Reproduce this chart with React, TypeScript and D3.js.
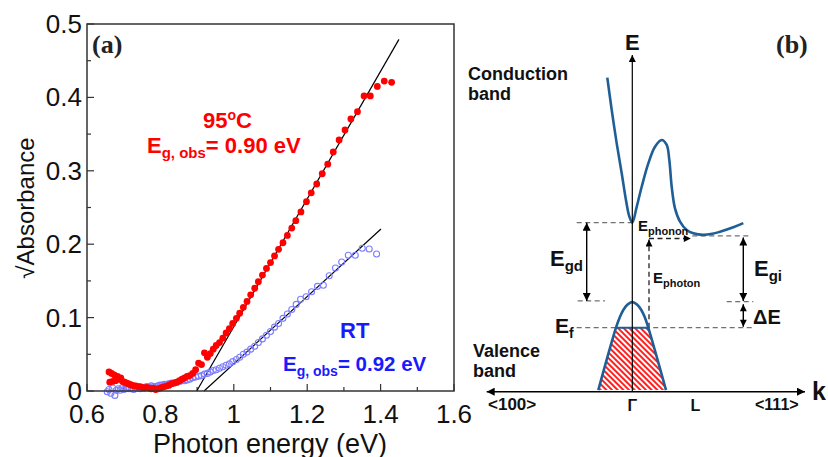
import React from "react";
import * as d3 from "d3";

// ---------- Panel (a) data ----------
const xTicks = [0.6, 0.8, 1.0, 1.2, 1.4, 1.6];
const xTickLabels = ["0.6", "0.8", "1", "1.2", "1.4", "1.6"];
const xMinorTicks = [0.7, 0.9, 1.1, 1.3, 1.5];
const yTicks = [0, 0.1, 0.2, 0.3, 0.4, 0.5];
const yTickLabels = ["0", "0.1", "0.2", "0.3", "0.4", "0.5"];
const yMinorTicks = [0.05, 0.15, 0.25, 0.35, 0.45];

// 95 °C (filled red dots): [photon energy eV, sqrt absorbance]
const red95: [number, number][] = [
  [0.66, 0.026], [0.662, 0.012], [0.667, 0.024], [0.67, 0.013], [0.674, 0.022],
  [0.678, 0.014], [0.683, 0.02], [0.688, 0.016], [0.692, 0.018], [0.697, 0.013],
  [0.702, 0.012], [0.707, 0.011], [0.712, 0.01], [0.717, 0.009], [0.722, 0.008],
  [0.728, 0.007], [0.733, 0.007], [0.739, 0.006], [0.745, 0.006], [0.751, 0.005],
  [0.757, 0.004], [0.763, 0.005], [0.769, 0.004], [0.775, 0.003], [0.781, 0.004],
  [0.787, 0.002], [0.793, 0.003], [0.799, 0.004], [0.805, 0.005], [0.811, 0.006],
  [0.818, 0.007], [0.824, 0.008], [0.831, 0.01], [0.838, 0.011], [0.845, 0.012],
  [0.852, 0.014], [0.859, 0.016], [0.866, 0.018], [0.873, 0.02], [0.88, 0.021],
  [0.888, 0.024], [0.896, 0.029], [0.904, 0.038], [0.912, 0.036], [0.92, 0.052],
  [0.928, 0.046], [0.936, 0.051], [0.944, 0.057], [0.952, 0.062], [0.961, 0.066],
  [0.97, 0.072], [0.979, 0.079], [0.988, 0.085], [0.997, 0.092], [1.007, 0.099],
  [1.016, 0.106], [1.026, 0.114], [1.036, 0.122], [1.046, 0.131], [1.057, 0.14],
  [1.067, 0.149], [1.078, 0.158], [1.089, 0.167], [1.1, 0.175], [1.111, 0.184],
  [1.122, 0.193], [1.134, 0.202], [1.146, 0.212], [1.158, 0.222], [1.169, 0.232],
  [1.183, 0.244], [1.198, 0.258], [1.211, 0.27], [1.226, 0.282], [1.241, 0.296],
  [1.256, 0.309], [1.271, 0.3256], [1.287, 0.342], [1.303, 0.3556], [1.319, 0.3706],
  [1.337, 0.3805], [1.355, 0.402], [1.372, 0.402], [1.391, 0.415], [1.41, 0.4223],
  [1.43, 0.4206],
];

// RT (open blue circles)
const blueRT: [number, number][] = [
  [0.655, -0.001], [0.66, 0.002], [0.665, -0.003], [0.67, 0.004], [0.676, -0.006],
  [0.68, 0.001], [0.685, 0.003], [0.69, 0.001], [0.695, 0.004], [0.7, 0.002],
  [0.706, 0.003], [0.711, 0.005], [0.716, 0.003], [0.722, 0.004], [0.727, 0.002],
  [0.733, 0.004], [0.739, 0.005], [0.745, 0.003], [0.751, 0.004], [0.757, 0.005],
  [0.763, 0.006], [0.769, 0.005], [0.775, 0.007], [0.781, 0.006], [0.787, 0.006],
  [0.793, 0.007], [0.799, 0.008], [0.805, 0.008], [0.811, 0.009], [0.818, 0.009],
  [0.824, 0.01], [0.831, 0.011], [0.838, 0.011], [0.845, 0.012], [0.852, 0.013],
  [0.859, 0.014], [0.866, 0.014], [0.873, 0.015], [0.88, 0.016], [0.888, 0.018],
  [0.896, 0.019], [0.904, 0.02], [0.912, 0.021], [0.92, 0.023], [0.928, 0.024],
  [0.936, 0.026], [0.944, 0.028], [0.952, 0.029], [0.961, 0.031], [0.97, 0.033],
  [0.979, 0.035], [0.988, 0.037], [0.997, 0.04], [1.007, 0.043], [1.016, 0.046],
  [1.026, 0.05], [1.036, 0.053], [1.046, 0.057], [1.057, 0.061], [1.067, 0.066],
  [1.078, 0.071], [1.089, 0.076], [1.1, 0.081], [1.111, 0.087], [1.122, 0.092],
  [1.134, 0.099], [1.146, 0.105], [1.158, 0.111], [1.17, 0.118], [1.182, 0.125],
  [1.197, 0.1285], [1.212, 0.1353], [1.228, 0.1426], [1.244, 0.144], [1.26, 0.157],
  [1.277, 0.1676], [1.294, 0.1757], [1.312, 0.185], [1.331, 0.185], [1.35, 0.1944],
  [1.369, 0.1935], [1.389, 0.1866],
];

const redFit: [number, number][] = [[0.899, 0], [1.45, 0.479]];
const blueFit: [number, number][] = [[0.919, 0], [1.401, 0.2207]];

// ---------- Panel (b) data (schematic k, E units) ----------
const conductionBand: [number, number][] = [
  [-0.25, 0.962], [-0.206, 0.838], [-0.156, 0.709], [-0.106, 0.594], [-0.063, 0.49],
  [-0.03, 0.428], [0, 0.404], [0.044, 0.465], [0.094, 0.542], [0.16, 0.632],
  [0.227, 0.696], [0.294, 0.722], [0.344, 0.703], [0.37, 0.645], [0.394, 0.542],
  [0.427, 0.459], [0.477, 0.408], [0.544, 0.376], [0.61, 0.363], [0.71, 0.357],
  [0.8, 0.361], [0.877, 0.369], [1.01, 0.386], [1.11, 0.402],
];
const valenceBand: [number, number][] = [
  [-0.34, -0.24], [-0.163, 0], [-0.125, 0.04], [-0.09, 0.068], [-0.05, 0.088],
  [0, 0.099], [0.05, 0.088], [0.09, 0.068], [0.125, 0.04], [0.16, 0], [0.337, -0.24],
];
const filledRegion: [number, number][] = [
  [-0.163, 0], [0.16, 0], [0.337, -0.24], [-0.34, -0.24],
];
const E_gammaMin = 0.404;
const E_vbTop = 0.103;
const E_fermi = 0;
const E_Lmin = 0.353;
const E_photonTop = 0.343;
const E_kAxis = -0.246;
const E_axisTop = 1.049;
const k_left = -1.456;
const k_right = 1.727;
const k_Egd = -0.456;
const k_photon = 0.167;
const k_Egi = 1.11;

const SANS = "'Liberation Sans', Arial, sans-serif";
const SERIF = "'Liberation Serif', 'Times New Roman', serif";

export default function App() {
  const x = d3.scaleLinear().domain([0.6, 1.6]).range([87, 454]);
  const y = d3.scaleLinear().domain([0, 0.5]).range([391, 24]);

  const kS = d3.scaleLinear().domain([0, 1]).range([632.3, 732.3]);
  const eS = d3.scaleLinear().domain([0, 1]).range([327.7, 67.7]);

  const bandLine = d3
    .line<[number, number]>()
    .x((d) => kS(d[0]))
    .y((d) => eS(d[1]))
    .curve(d3.curveCatmullRom.alpha(0.5));
  const polyLine = d3
    .line<[number, number]>()
    .x((d) => kS(d[0]))
    .y((d) => eS(d[1]));

  const blueBand = "#1f5f96";
  const dashGray = "#707070";

  return (
    <svg
      width={828}
      height={457}
      viewBox="0 0 828 457"
      style={{ position: "absolute", left: 0, top: 0, background: "#fff" }}
    >
      <defs>
        <pattern
          id="hatch"
          patternUnits="userSpaceOnUse"
          width={4}
          height={4}
          patternTransform="rotate(-45)"
        >
          <rect width={4} height={4} fill="#fff" />
          <line x1={1} y1={0} x2={1} y2={4} stroke="#ff2020" strokeWidth={2} />
        </pattern>
        <marker
          id="arr"
          viewBox="0 0 10 10"
          refX={10}
          refY={5}
          markerWidth={9}
          markerHeight={8}
          markerUnits="userSpaceOnUse"
          orient="auto-start-reverse"
        >
          <path d="M0,0 L10,5 L0,10 z" fill="#000" />
        </marker>
        <marker
          id="arrS"
          viewBox="0 0 10 10"
          refX={10}
          refY={5}
          markerWidth={8}
          markerHeight={7}
          markerUnits="userSpaceOnUse"
          orient="auto-start-reverse"
        >
          <path d="M0,0 L10,5 L0,10 z" fill="#000" />
        </marker>
      </defs>

      {/* ================= Panel (a) ================= */}
      <g fontFamily={SANS}>
        {/* ticks */}
        {yTicks.map((t) => (
          <line key={"yt" + t} x1={x(0.6)} x2={x(0.6) + 7} y1={y(t)} y2={y(t)} stroke="#333" strokeWidth={1.2} />
        ))}
        {yMinorTicks.map((t) => (
          <line key={"ym" + t} x1={x(0.6)} x2={x(0.6) + 4} y1={y(t)} y2={y(t)} stroke="#333" strokeWidth={1.2} />
        ))}
        {xTicks.map((t) => (
          <line key={"xt" + t} x1={x(t)} x2={x(t)} y1={y(0)} y2={y(0) - 7} stroke="#333" strokeWidth={1.2} />
        ))}
        {xMinorTicks.map((t) => (
          <line key={"xm" + t} x1={x(t)} x2={x(t)} y1={y(0)} y2={y(0) - 4} stroke="#333" strokeWidth={1.2} />
        ))}
        {yTicks.map((t, i) => (
          <text key={"yl" + t} x={x(0.6) - 5} y={y(t) + 9} fontSize={26} textAnchor="end" fill="#111">
            {yTickLabels[i]}
          </text>
        ))}
        {xTicks.map((t, i) => (
          <text key={"xl" + t} x={x(t)} y={y(0) + 32} fontSize={26} textAnchor="middle" fill="#111">
            {xTickLabels[i]}
          </text>
        ))}
        <text x={270} y={453} fontSize={27} textAnchor="middle" fill="#111">
          Photon energy (eV)
        </text>
        <text transform="translate(34,208) rotate(-90)" fontSize={24} textAnchor="middle" fill="#111">
          √Absorbance
        </text>

        {/* fit lines */}
        <line x1={x(redFit[0][0])} y1={y(redFit[0][1])} x2={x(redFit[1][0])} y2={y(redFit[1][1])} stroke="#000" strokeWidth={1.2} />
        <line x1={x(blueFit[0][0])} y1={y(blueFit[0][1])} x2={x(blueFit[1][0])} y2={y(blueFit[1][1])} stroke="#000" strokeWidth={1.2} />

        {/* data */}
        {blueRT.map((d, i) => (
          <circle key={"b" + i} cx={x(d[0])} cy={y(d[1])} r={3} fill="none" stroke="#7d7dff" strokeWidth={1.1} />
        ))}
        {red95.map((d, i) => (
          <circle key={"r" + i} cx={x(d[0])} cy={y(d[1])} r={3.4} fill="#ff0000" />
        ))}

        {/* frame */}
        <rect x={87} y={24} width={367} height={367} fill="none" stroke="#333" strokeWidth={1.5} />

        <text x={92} y={53} fontFamily={SERIF} fontWeight="bold" fontSize={26} fill="#222">
          (a)
        </text>

        {/* annotations */}
        <text x={203} y={128} fontSize={22} fontWeight="bold" fill="#ff0000">
          95<tspan fontSize={14} dy={-8}>o</tspan>
          <tspan dy={8}>C</tspan>
        </text>
        <text x={147} y={153} fontSize={22} fontWeight="bold" fill="#ff0000">
          E<tspan fontSize={15} dy={5}>g, obs</tspan>
          <tspan dy={-5}>= 0.90 eV</tspan>
        </text>
        <text x={340} y={338} fontSize={22} fontWeight="bold" fill="#1a1aff">
          RT
        </text>
        <text x={283} y={371} fontSize={20.5} fontWeight="bold" fill="#1a1aff">
          E<tspan fontSize={14} dy={5}>g, obs</tspan>
          <tspan dy={-5}>= 0.92 eV</tspan>
        </text>
      </g>

      {/* ================= Panel (b) ================= */}
      <g fontFamily={SANS}>
        {/* hatched occupied states */}
        <path d={polyLine(filledRegion) + "Z"} fill="url(#hatch)" stroke="none" />

        {/* dashed guide lines */}
        <g stroke={dashGray} strokeWidth={1.3} strokeDasharray="5,3.5" fill="none">
          <line x1={kS(-0.556)} x2={kS(0)} y1={eS(E_gammaMin)} y2={eS(E_gammaMin)} />
          <line x1={kS(-0.546)} x2={kS(-0.273)} y1={eS(E_vbTop)} y2={eS(E_vbTop)} />
          <line x1={kS(-0.556)} x2={kS(1.194)} y1={eS(E_fermi)} y2={eS(E_fermi)} />
          <line x1={kS(0.6)} x2={kS(1.177)} y1={eS(E_Lmin)} y2={eS(E_Lmin)} />
          <line x1={kS(0.944)} x2={kS(1.21)} y1={eS(0.1)} y2={eS(0.1)} />
        </g>
        {/* photon & phonon dashed arrows */}
        <line
          x1={kS(k_photon)} x2={kS(k_photon)} y1={eS(E_fermi)} y2={eS(E_photonTop) + 1}
          stroke="#222" strokeWidth={1.3} strokeDasharray="5,3.5" markerEnd="url(#arrS)"
        />
        <line
          x1={kS(k_photon)} x2={kS(0.585)} y1={eS(E_photonTop)} y2={eS(E_photonTop)}
          stroke="#222" strokeWidth={1.3} strokeDasharray="5,3.5" markerEnd="url(#arrS)"
        />

        {/* solid double arrows */}
        <line
          x1={kS(k_Egd)} x2={kS(k_Egd)} y1={eS(E_gammaMin)} y2={eS(E_vbTop)}
          stroke="#000" strokeWidth={1.4} markerStart="url(#arr)" markerEnd="url(#arr)"
        />
        <line
          x1={kS(k_Egi)} x2={kS(k_Egi)} y1={eS(E_photonTop + 0.004)} y2={eS(E_vbTop)}
          stroke="#000" strokeWidth={1.4} markerStart="url(#arr)" markerEnd="url(#arr)"
        />
        <line
          x1={kS(k_Egi)} x2={kS(k_Egi)} y1={eS(0.09)} y2={eS(0.004)}
          stroke="#000" strokeWidth={1.4} markerStart="url(#arrS)" markerEnd="url(#arrS)"
        />

        {/* bands */}
        <path d={bandLine(valenceBand) || ""} fill="none" stroke={blueBand} strokeWidth={2.6} />
        <path d={bandLine(conductionBand) || ""} fill="none" stroke={blueBand} strokeWidth={2.6} />
        <line x1={kS(-0.163)} x2={kS(0.16)} y1={eS(0)} y2={eS(0)} stroke={blueBand} strokeWidth={2} />

        {/* axes */}
        <line
          x1={kS(0)} x2={kS(0)} y1={eS(E_kAxis)} y2={eS(E_axisTop)}
          stroke="#000" strokeWidth={1.2} markerEnd="url(#arrS)"
        />
        <line
          x1={kS(k_left)} x2={kS(k_right)} y1={eS(E_kAxis)} y2={eS(E_kAxis)}
          stroke="#000" strokeWidth={1.5} markerStart="url(#arr)" markerEnd="url(#arr)"
        />

        {/* labels */}
        <text x={kS(0)} y={50} fontSize={22} fontWeight="bold" textAnchor="middle" fill="#111">E</text>
        <text x={776} y={53} fontFamily={SERIF} fontSize={26} fontWeight="bold" fill="#222">(b)</text>
        <text x={468} y={80} fontSize={18} fontWeight="bold" fill="#111">Conduction</text>
        <text x={468} y={100} fontSize={18} fontWeight="bold" fill="#111">band</text>
        <text x={473} y={357} fontSize={18} fontWeight="bold" fill="#111">Valence</text>
        <text x={473} y={377} fontSize={18} fontWeight="bold" fill="#111">band</text>
        <text x={812} y={400} fontSize={25} fontWeight="bold" fill="#111">k</text>
        <text x={488} y={410} fontSize={17} fontWeight="bold" fill="#111">&lt;100&gt;</text>
        <text x={755} y={410} fontSize={16} fontWeight="bold" fill="#111">&lt;111&gt;</text>
        <text x={kS(0)} y={411} fontSize={16} fontWeight="bold" textAnchor="middle" fill="#111">Γ</text>
        <text x={kS(0.63)} y={411} fontSize={16} fontWeight="bold" textAnchor="middle" fill="#111">L</text>

        <text x={550} y={266} fontSize={22} fontWeight="bold" fill="#111">
          E<tspan fontSize={15} dy={5}>gd</tspan>
        </text>
        <text x={754} y={276} fontSize={22} fontWeight="bold" fill="#111">
          E<tspan fontSize={15} dy={5}>gi</tspan>
        </text>
        <text x={555} y={333} fontSize={21} fontWeight="bold" fill="#111">
          E<tspan fontSize={14} dy={5}>f</tspan>
        </text>
        <text x={753} y={324} fontSize={20} fontWeight="bold" fill="#111">ΔE</text>
        <text x={653} y={283} fontSize={15} fontWeight="bold" fill="#111">
          E<tspan fontSize={11} dy={4}>photon</tspan>
        </text>
        <text x={638} y={231} fontSize={15} fontWeight="bold" fill="#111">
          E<tspan fontSize={11} dy={4}>phonon</tspan>
        </text>
      </g>
    </svg>
  );
}
